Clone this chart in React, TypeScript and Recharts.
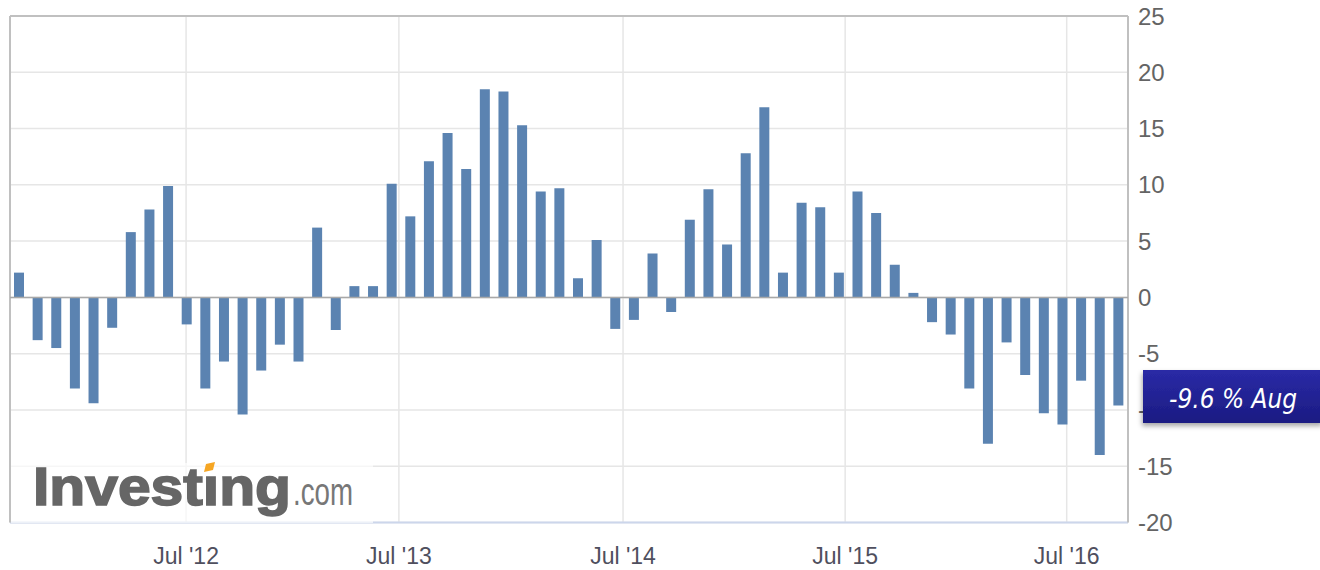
import { BarChart, Bar, XAxis, YAxis, CartesianGrid, ReferenceLine } from 'recharts';

const months = [
    "Sep '11", "Oct '11", "Nov '11", "Dec '11",
    "Jan '12", "Feb '12", "Mar '12", "Apr '12", "May '12", "Jun '12", "Jul '12", "Aug '12", "Sep '12", "Oct '12", "Nov '12", "Dec '12",
    "Jan '13", "Feb '13", "Mar '13", "Apr '13", "May '13", "Jun '13", "Jul '13", "Aug '13", "Sep '13", "Oct '13", "Nov '13", "Dec '13",
    "Jan '14", "Feb '14", "Mar '14", "Apr '14", "May '14", "Jun '14", "Jul '14", "Aug '14", "Sep '14", "Oct '14", "Nov '14", "Dec '14",
    "Jan '15", "Feb '15", "Mar '15", "Apr '15", "May '15", "Jun '15", "Jul '15", "Aug '15", "Sep '15", "Oct '15", "Nov '15", "Dec '15",
    "Jan '16", "Feb '16", "Mar '16", "Apr '16", "May '16", "Jun '16", "Jul '16", "Aug '16",
];

// year-over-year change, %
const values = [
    2.2, -3.8, -4.5, -8.1, -9.4, -2.7, 5.8, 7.8, 9.9, -2.4,
    -8.1, -5.7, -10.4, -6.5, -4.2, -5.7, 6.2, -2.9, 1.0, 1.0,
    10.1, 7.2, 12.1, 14.6, 11.4, 18.5, 18.3, 15.3, 9.4, 9.7,
    1.7, 5.1, -2.8, -2.0, 3.9, -1.3, 6.9, 9.6, 4.7, 12.8,
    16.9, 2.2, 8.4, 8.0, 2.2, 9.4, 7.5, 2.9, 0.4, -2.2,
    -3.3, -8.1, -13.0, -4.0, -6.9, -10.3, -11.3, -7.4, -14.0, -9.6,
];

// positions of the Jul gridlines along the bar index axis
const julTicks = [8.95, 20.37, 32.4, 44.32, 56.21];
const julLabels = ["Jul '12", "Jul '13", "Jul '14", "Jul '15", "Jul '16"];

const yTicks = [-20, -15, -10, -5, 0, 5, 10, 15, 20, 25];

const latestLabel = '-9.6 % Aug';

const data = months.map((month, i) => ({ i, month, value: values[i] }));

export default function App() {
    return (
        <div style={{ position: 'absolute', left: 0, top: 0, width: 1320, height: 570, background: '#fff' }}>
            <BarChart
                width={1320}
                height={570}
                data={data}
                margin={{ top: 16, right: 0, left: 10, bottom: 0 }}
            >
                <CartesianGrid stroke="#e6e6e6" strokeWidth={1.5} />
                <XAxis
                    dataKey="i"
                    type="number"
                    domain={[-0.5, 59.5]}
                    ticks={julTicks}
                    tickFormatter={(v: number) => julLabels[julTicks.indexOf(v)] ?? ''}
                    height={47.5}
                    axisLine={false}
                    tickLine={false}
                    tickSize={0}
                    tickMargin={25}
                    tick={{ fontSize: 23, fill: '#4f4f5e', fontFamily: 'Liberation Sans, Arial, sans-serif' }}
                />
                <YAxis
                    orientation="right"
                    domain={[-20, 25]}
                    ticks={yTicks}
                    width={192}
                    axisLine={false}
                    tickLine={false}
                    tickSize={0}
                    tickMargin={10}
                    tick={{ fontSize: 24, fill: '#646464', textAnchor: 'start', fontFamily: 'Liberation Sans, Arial, sans-serif' }}
                />
                <ReferenceLine y={-20} stroke="#ccd6eb" strokeWidth={2} />
                <ReferenceLine y={25} stroke="#c0c0c0" strokeWidth={2} />
                <ReferenceLine x={-0.5} stroke="#c0c0c0" strokeWidth={2} />
                <ReferenceLine x={59.5} stroke="#c0c0c0" strokeWidth={2} />
                <ReferenceLine y={0} stroke="#a8a8a8" strokeWidth={1.5} />
                <Bar dataKey="value" fill="#5b83b1" barSize={10} isAnimationActive={false} />
            </BarChart>

            <svg width={1320} height={570} style={{ position: 'absolute', left: 0, top: 0, pointerEvents: 'none' }}>
                <defs>
                    <linearGradient id="tagFill" x1="0" y1="0" x2="0" y2="1">
                        <stop offset="0%" stopColor="#2a2aa6" />
                        <stop offset="100%" stopColor="#1b1b82" />
                    </linearGradient>
                    <filter id="tagShadow" x="-10%" y="-20%" width="130%" height="160%">
                        <feDropShadow dx="-1" dy="3" stdDeviation="2.5" floodColor="#000" floodOpacity="0.35" />
                    </filter>
                </defs>

                {/* watermark */}
                <rect x={11} y={463} width={362} height={60} fill="#fff" opacity={0.65} />
                <text
                    x={33}
                    y={505}
                    textLength={258}
                    lengthAdjust="spacingAndGlyphs"
                    fontFamily="Liberation Sans, Arial, sans-serif"
                    fontWeight="bold"
                    fontSize={53}
                    fill="#666"
                    stroke="#666"
                    strokeWidth={1.6}
                >
                    Investıng
                </text>
                <polygon points="204,472 206,464 215,462 213,470" fill="#f6a623" />
                <text
                    x={293}
                    y={505}
                    textLength={60}
                    lengthAdjust="spacingAndGlyphs"
                    fontFamily="Liberation Sans, Arial, sans-serif"
                    fontSize={38}
                    fill="#777"
                >
                    .com
                </text>

                {/* latest value tag */}
                <rect x={1143} y={370} width={180} height={53} fill="url(#tagFill)" filter="url(#tagShadow)" />
                <text
                    x={1169}
                    y={408}
                    textLength={128}
                    lengthAdjust="spacingAndGlyphs"
                    fontFamily="DejaVu Sans, sans-serif"
                    fontStyle="italic"
                    fontSize={26}
                    fill="#fff"
                >
                    {latestLabel}
                </text>
            </svg>
        </div>
    );
}
